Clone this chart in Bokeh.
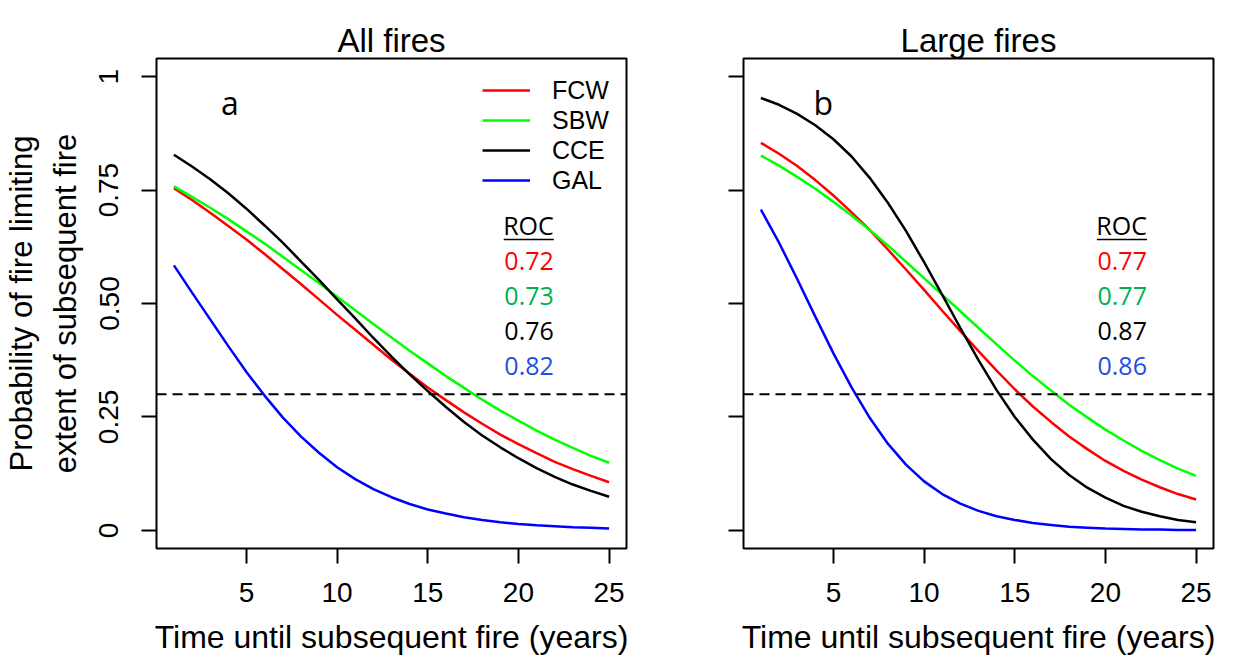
import math
from bokeh.plotting import figure
from bokeh.models import (Range1d, FixedTicker, Span, Label, Legend, LegendItem,
                          BoxAnnotation, Title)
from bokeh.layouts import row
from bokeh.embed import file_html
from bokeh.resources import INLINE

# ---------------- data ----------------
years = list(range(1, 26))

all_fcw = [0.754, 0.728, 0.700, 0.671, 0.641, 0.609, 0.576, 0.543, 0.509, 0.475, 0.442, 0.409, 0.376,
           0.345, 0.315, 0.287, 0.260, 0.235, 0.211, 0.190, 0.170, 0.151, 0.135, 0.120, 0.106]
all_sbw = [0.758, 0.735, 0.711, 0.686, 0.659, 0.632, 0.603, 0.574, 0.545, 0.515, 0.485, 0.455, 0.425,
           0.396, 0.368, 0.340, 0.314, 0.288, 0.264, 0.242, 0.220, 0.200, 0.182, 0.164, 0.149]
all_cce = [0.828, 0.802, 0.774, 0.743, 0.709, 0.672, 0.634, 0.593, 0.552, 0.509, 0.467, 0.424, 0.383,
           0.344, 0.307, 0.272, 0.239, 0.209, 0.183, 0.159, 0.137, 0.118, 0.101, 0.087, 0.074]
all_gal = [0.584, 0.524, 0.465, 0.406, 0.349, 0.297, 0.249, 0.207, 0.171, 0.139, 0.113, 0.091, 0.073,
           0.058, 0.046, 0.037, 0.029, 0.023, 0.018, 0.014, 0.011, 0.009, 0.007, 0.006, 0.004]

large_fcw = [0.854, 0.830, 0.803, 0.772, 0.738, 0.701, 0.662, 0.619, 0.575, 0.530, 0.484, 0.439, 0.395,
             0.352, 0.311, 0.273, 0.239, 0.207, 0.179, 0.153, 0.131, 0.112, 0.095, 0.080, 0.068]
large_sbw = [0.826, 0.804, 0.779, 0.753, 0.724, 0.694, 0.662, 0.628, 0.592, 0.556, 0.519, 0.483, 0.446,
             0.410, 0.374, 0.340, 0.308, 0.277, 0.249, 0.222, 0.198, 0.175, 0.155, 0.136, 0.120]
large_cce = [0.953, 0.938, 0.918, 0.893, 0.862, 0.824, 0.777, 0.722, 0.660, 0.591, 0.519, 0.446, 0.375,
             0.309, 0.250, 0.200, 0.157, 0.122, 0.094, 0.072, 0.054, 0.041, 0.031, 0.023, 0.018]
large_gal = [0.707, 0.634, 0.554, 0.471, 0.390, 0.315, 0.248, 0.191, 0.145, 0.108, 0.080, 0.059, 0.043,
             0.031, 0.023, 0.016, 0.012, 0.008, 0.006, 0.004, 0.003, 0.002, 0.002, 0.001, 0.001]

series_names = ["FCW", "SBW", "CCE", "GAL"]
series_colors = ["#FF0000", "#00FF00", "#000000", "#0000FF"]
roc_colors = ["#FF0000", "#00B050", "#000000", "#1F4FE0"]
roc_all = ["0.72", "0.73", "0.76", "0.82"]
roc_large = ["0.77", "0.77", "0.87", "0.86"]
threshold = 0.3

x_ticks = [5, 10, 15, 20, 25]
y_ticks = [0, 0.25, 0.5, 0.75, 1]
y_tick_labels = ["0", "0.25", "0.50", "0.75", "1"]

AX_FONT = "Liberation Sans"
ANN_FONT = "Open Sans"


def make_panel(title, data, roc, letter, letter_x, roc_x, first):
    p = figure(frame_width=470, frame_height=490, title=None,
               x_range=Range1d(0.04, 25.96), y_range=Range1d(-0.04, 1.04),
               output_backend="svg", toolbar_location=None,
               min_border_left=156 if first else 107,
               min_border_right=10 if first else 12,
               min_border_top=58, min_border_bottom=0)
    p.background_fill_color = "white"
    p.border_fill_color = "white"
    p.outline_line_color = "black"
    p.outline_line_width = 2
    p.xgrid.visible = False
    p.ygrid.visible = False

    # invisible spacer next to the frame, then the panel title above it
    p.add_layout(Title(text=".", text_font_size="1px", text_alpha=0, standoff=14), "above")
    p.add_layout(Title(text=title, align="center", text_font=AX_FONT,
                       text_font_size="33px", text_font_style="normal",
                       text_color="black", standoff=0), "above")

    for ax in (p.xaxis, p.yaxis):
        ax.axis_line_color = None
        ax.major_tick_out = 15
        ax.major_tick_in = 0
        ax.major_tick_line_width = 2
        ax.minor_tick_line_color = None
        ax.major_label_text_font = AX_FONT
        ax.major_label_text_font_size = "28px"
        ax.major_label_text_color = "black"
        ax.axis_label_text_font = AX_FONT
        ax.axis_label_text_font_size = "32px"
        ax.axis_label_text_font_style = "normal"
        ax.axis_label_text_color = "black"

    p.xaxis.ticker = FixedTicker(ticks=x_ticks)
    p.xaxis.major_label_standoff = 19
    p.xaxis.axis_label = "Time until subsequent fire (years)"
    p.xaxis.axis_label_standoff = 14

    p.yaxis.ticker = FixedTicker(ticks=y_ticks)
    if first:
        p.yaxis.major_label_overrides = {t: l for t, l in zip(y_ticks, y_tick_labels)}
        p.yaxis.major_label_orientation = "vertical"
        p.yaxis.major_label_standoff = 23
        p.yaxis.axis_label = "Probability of fire limiting\nextent of subsequent fire"
        p.yaxis.axis_label_standoff = 14
        p.yaxis.axis_label_text_font_size = "31px"
        p.yaxis.axis_label_text_line_height = 1.25
    else:
        p.yaxis.major_label_overrides = {t: "" for t in y_ticks}

    p.add_layout(Span(location=threshold, dimension="width", line_color="black",
                      line_width=2, line_dash="10 6"))

    renderers = []
    for ys, c in zip(data, series_colors):
        r = p.line(years, ys, line_color=c, line_width=2.5)
        renderers.append(r)

    if first:
        items = [LegendItem(label=n, renderers=[r]) for n, r in zip(series_names, renderers)]
        leg = Legend(items=items, location=(326, 353), orientation="vertical",
                     border_line_color=None, background_fill_alpha=0,
                     padding=0, margin=0, spacing=0,
                     glyph_width=48, glyph_height=30, label_height=30,
                     label_standoff=22, label_text_font=AX_FONT,
                     label_text_font_size="25px", label_text_color="black")
        p.add_layout(leg)

    p.add_layout(Label(x=letter_x, y=0.944, text=letter, text_align="center",
                       text_baseline="alphabetic", text_font=ANN_FONT,
                       text_font_size="32px", text_color="black"))

    p.add_layout(Label(x=roc_x, y=0.673, text="ROC", text_align="right",
                       text_baseline="alphabetic", text_font=ANN_FONT,
                       text_font_size="25px", text_color="black"))
    p.add_layout(BoxAnnotation(left=roc_x - 2.76, right=roc_x, top=0.6425, bottom=0.6395,
                               fill_color="black", fill_alpha=1, line_color=None))
    for i, (v, c) in enumerate(zip(roc, roc_colors)):
        p.add_layout(Label(x=roc_x, y=0.593 - i * 0.0772, text=v, text_align="right",
                           text_baseline="alphabetic", text_font=ANN_FONT,
                           text_font_size="25px", text_color=c))
    return p


p1 = make_panel("All fires", [all_fcw, all_sbw, all_cce, all_gal], roc_all, "a", 4.09, 21.95, True)
p2 = make_panel("Large fires", [large_fcw, large_sbw, large_cce, large_gal], roc_large, "b", 4.44, 22.29, False)

layout = row(p1, p2)
open("out.html", "w").write(file_html(layout, INLINE))
